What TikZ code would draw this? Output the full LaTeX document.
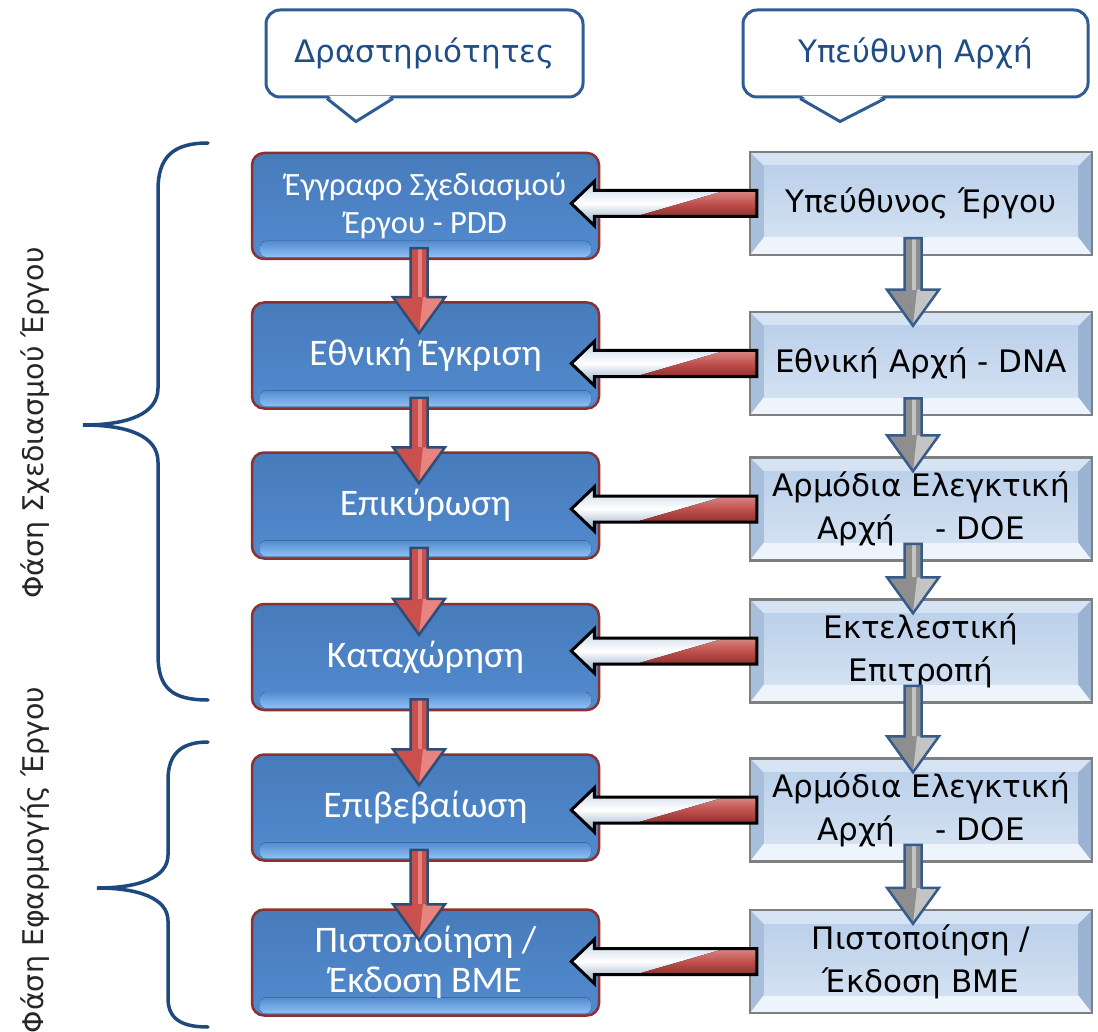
\documentclass[tikz,border=0pt]{standalone}
\usepackage{fontspec}
\setmainfont{DejaVu Sans}
\newfontfamily\actfont{Carlito}
\usetikzlibrary{calc}

\definecolor{calloutline}{HTML}{2F5D93}
\definecolor{callouttext}{HTML}{1F4E86}
\definecolor{actborder}{HTML}{8B3230}
\definecolor{actTop}{HTML}{477BBB}
\definecolor{actBot}{HTML}{528BCF}
\definecolor{actHi}{HTML}{8FC1F5}
\definecolor{rbBorder}{HTML}{7F7F7F}
\definecolor{rbFaceTop}{HTML}{BBD0EA}
\definecolor{rbFaceBot}{HTML}{D3E1F2}
\definecolor{rbTopBevel}{HTML}{D6E3F3}
\definecolor{rbBotBevel}{HTML}{EEF4FB}
\definecolor{rbLeftBevel}{HTML}{A8BFDC}
\definecolor{rbRightBevel}{HTML}{9AB3D3}
\definecolor{hlTop}{HTML}{C3D2E4}
\definecolor{hlBot}{HTML}{8EA5C0}
\definecolor{hrTop}{HTML}{D98D8A}
\definecolor{hrMid}{HTML}{C0504D}
\definecolor{hrBot}{HTML}{8C2F2C}
\definecolor{redArrow}{HTML}{C9504C}
\definecolor{redFacet}{HTML}{E8847F}
\definecolor{redEdge}{HTML}{2C4D75}
\definecolor{grayArrow}{HTML}{8E8E8E}
\definecolor{grayFacet}{HTML}{C4C4C4}
\definecolor{grayEdge}{HTML}{365C8C}
\definecolor{braceblue}{HTML}{1F497D}
\definecolor{phasetext}{HTML}{262626}

% block arrow pointing left, from an authority box to an activity box
\newcommand\hflow[2]{%
  \coordinate (hf-e) at ([xshift=8pt]#1.west);
  \coordinate (hf-b) at (#2.east |- #1.west);
  \coordinate (hf-t) at ([xshift=-29pt]hf-b);
  \def\hflowpath{(hf-t) -- ([shift={(23pt,22pt)}]hf-t) -- ([shift={(23pt,13pt)}]hf-t)
    -- ([yshift=13pt]hf-e) -- ([yshift=-13pt]hf-e) -- ([shift={(23pt,-13pt)}]hf-t)
    -- ([shift={(23pt,-22pt)}]hf-t) -- cycle}
  \begin{scope}
    \clip \hflowpath;
    \fill[top color=hlTop, bottom color=hlBot, middle color=white] \hflowpath;
    \fill[top color=hrTop, bottom color=hrBot, middle color=hrMid]
      ([shift={(-27.6pt,14pt)}]hf-e) -- ([shift={(-124.4pt,-14pt)}]hf-e)
      -- ([shift={(20pt,-14pt)}]hf-e) -- ([shift={(20pt,14pt)}]hf-e) -- cycle;
  \end{scope}
  \draw[black, line width=3pt, line join=miter] \hflowpath;
}

% block arrow pointing down between two boxes of one column
% #1 source, #2 target, #3 horizontal offset, #4 body, #5 lit facet, #6 edge,
% #7 start above source bottom, #8 tip below target top
\newcommand\vflow[8]{%
  \coordinate (vf-s) at ([shift={(#3,#7)}]#1.south);
  \coordinate (vf-b) at (vf-s |- #2.north);
  \coordinate (vf-t) at ([yshift=-#8]vf-b);
  \def\vflowpath{(vf-t) -- ([shift={(-26pt,36pt)}]vf-t) -- ([shift={(-8.5pt,36pt)}]vf-t)
    -- ([xshift=-8.5pt]vf-s) -- ([xshift=8.5pt]vf-s) -- ([shift={(8.5pt,36pt)}]vf-t)
    -- ([shift={(26pt,36pt)}]vf-t) -- cycle}
  \fill[#4] \vflowpath;
  \fill[#5] (vf-t) -- ([shift={(26pt,36pt)}]vf-t) -- ([shift={(4pt,36pt)}]vf-t) -- cycle;
  \fill[#5] ([xshift=-1pt]vf-s) rectangle ([shift={(3pt,36pt)}]vf-t);
  \draw[#6, line width=2.5pt, line join=miter] \vflowpath;
}

% speech-bubble pointer under a heading
\newcommand\pointer[4]{%
  \fill[white] ([shift={(#2+2pt,2.5pt)}]#1.south) -- ([shift={(#4-2pt,2.5pt)}]#1.south)
    -- ([shift={(#3,-21pt)}]#1.south) -- cycle;
  \draw[calloutline, line width=3pt, line join=miter]
    ([xshift=#2]#1.south) -- ([shift={(#3,-23pt)}]#1.south) -- ([xshift=#4]#1.south);
}

\begin{document}
\begin{tikzpicture}[x=1pt, y=-1pt,
  callout/.style={draw=calloutline, line width=3pt, rounded corners=14pt, fill=white,
    text=callouttext, font=\fontsize{31}{36}\selectfont, inner sep=0pt,
    minimum height=87pt},
  activity/.style={draw=actborder, line width=2.5pt, rounded corners=12pt,
    minimum width=347pt, minimum height=106pt, inner sep=0pt, align=center,
    text=white, font=\actfont\fontsize{37.5}{40}\selectfont,
    path picture={
      \fill[top color=actTop, bottom color=actBot]
        (path picture bounding box.south west) rectangle (path picture bounding box.north east);
      \fill[top color=actBot, bottom color=actHi, rounded corners=6pt]
        ([shift={(8pt,2pt)}]path picture bounding box.south west)
        rectangle ([shift={(-8pt,18pt)}]path picture bounding box.south east);
    }},
  authority/.style={draw=rbBorder, line width=2.5pt, minimum width=342pt,
    minimum height=103pt, inner sep=0pt, align=center, text=black,
    font=\fontsize{31}{43}\selectfont,
    path picture={
      \fill[rbLeftBevel] (path picture bounding box.south west)
        rectangle (path picture bounding box.north east);
      \fill[rbRightBevel] (path picture bounding box.south east)
        -- (path picture bounding box.north east)
        -- ([shift={(-14pt,-14pt)}]path picture bounding box.north east)
        -- ([shift={(-14pt,18pt)}]path picture bounding box.south east) -- cycle;
      \fill[rbTopBevel] (path picture bounding box.north west)
        -- (path picture bounding box.north east)
        -- ([shift={(-14pt,-14pt)}]path picture bounding box.north east)
        -- ([shift={(14pt,-14pt)}]path picture bounding box.north west) -- cycle;
      \fill[rbBotBevel] (path picture bounding box.south west)
        -- (path picture bounding box.south east)
        -- ([shift={(-14pt,18pt)}]path picture bounding box.south east)
        -- ([shift={(14pt,18pt)}]path picture bounding box.south west) -- cycle;
      \fill[top color=rbFaceTop, bottom color=rbFaceBot]
        ([shift={(14pt,18pt)}]path picture bounding box.south west)
        rectangle ([shift={(-14pt,-14pt)}]path picture bounding box.north east);
    }},
  phase/.style={text=phasetext, font=\fontsize{28.5}{32}\selectfont, inner sep=0pt},
  brace/.style={draw=braceblue, line width=3.5pt, line cap=round}
]
\useasboundingbox (0,0) rectangle (1098,1032);

% column headings
\node[callout, minimum width=317pt] (hAct) at (424.5,53.5) {Δραστηριότητες};
\node[callout, minimum width=345pt] (hResp) at (915.5,53.5) {Υπεύθυνη Αρχή};
\pointer{hAct}{-97.5pt}{-68.5pt}{-31.5pt}
\pointer{hResp}{-115.5pt}{-75.5pt}{-30.5pt}

% activities
\node[activity, font=\actfont\fontsize{32.5}{38}\selectfont] (a1) at (425.5,206)
  {Έγγραφο Σχεδιασμού\\Έργου - PDD};
\node[activity] (a2) at (425.5,355.5) {Εθνική Έγκριση};
\node[activity] (a3) at (425.5,505.5) {Επικύρωση};
\node[activity] (a4) at (425.5,657)   {Καταχώρηση};
\node[activity] (a5) at (425.5,807.5) {Επιβεβαίωση};
\node[activity] (a6) at (425.5,962.5) {Πιστοποίηση /\\Έκδοση ΒΜΕ};

% responsible bodies
\node[authority] (r1) at (921,203.5) {Υπεύθυνος Έργου};
\node[authority] (r2) at (921,363.5) {Εθνική Αρχή - DNA};
\node[authority] (r3) at (921,509)   {Αρμόδια Ελεγκτική\\Αρχή\hspace{1.3em}- DOE};
\node[authority] (r4) at (921,651)   {Εκτελεστική\\Επιτροπή};
\node[authority] (r5) at (921,810)   {Αρμόδια Ελεγκτική\\Αρχή\hspace{1.3em}- DOE};
\node[authority] (r6) at (921,961.5) {Πιστοποίηση /\\Έκδοση ΒΜΕ};

% responsibility arrows
\hflow{r1}{a1}
\hflow{r2}{a2}
\hflow{r3}{a3}
\hflow{r4}{a4}
\hflow{r5}{a5}
\hflow{r6}{a6}

% sequence of activities
\vflow{a1}{a2}{-6.5pt}{redArrow}{redFacet}{redEdge}{12pt}{32pt}
\vflow{a2}{a3}{-6.5pt}{redArrow}{redFacet}{redEdge}{12pt}{32pt}
\vflow{a3}{a4}{-6.5pt}{redArrow}{redFacet}{redEdge}{12pt}{32pt}
\vflow{a4}{a5}{-6.5pt}{redArrow}{redFacet}{redEdge}{12pt}{32pt}
\vflow{a5}{a6}{-6.5pt}{redArrow}{redFacet}{redEdge}{12pt}{32pt}

% sequence of responsible bodies
\vflow{r1}{r2}{-8pt}{grayArrow}{grayFacet}{grayEdge}{18pt}{15pt}
\vflow{r2}{r3}{-8pt}{grayArrow}{grayFacet}{grayEdge}{18pt}{15pt}
\vflow{r3}{r4}{-8pt}{grayArrow}{grayFacet}{grayEdge}{18pt}{15pt}
\vflow{r4}{r5}{-8pt}{grayArrow}{grayFacet}{grayEdge}{18pt}{15pt}
\vflow{r5}{r6}{-8pt}{grayArrow}{grayFacet}{grayEdge}{18pt}{15pt}

% phase braces
\draw[brace] (208,143) .. controls (172,143) and (158,158) .. (158,190)
  -- (158,388) .. controls (158,414) and (128,425) .. (83,425)
  .. controls (128,425) and (158,436) .. (158,462)
  -- (158,655) .. controls (158,688) and (172,700) .. (208,700);
\draw[brace] (208,742) .. controls (180,742) and (168,755) .. (168,780)
  -- (168,855) .. controls (168,878) and (138,888) .. (97,888)
  .. controls (138,888) and (168,898) .. (168,921)
  -- (168,998) .. controls (168,1018) and (180,1027) .. (208,1027);

\node[phase, rotate=90] (p1) at (35,423) {Φάση Σχεδιασμού Έργου};
\node[phase, rotate=90] (p2) at (35,860) {Φάση Εφαρμογής Έργου};
\end{tikzpicture}
\end{document}
